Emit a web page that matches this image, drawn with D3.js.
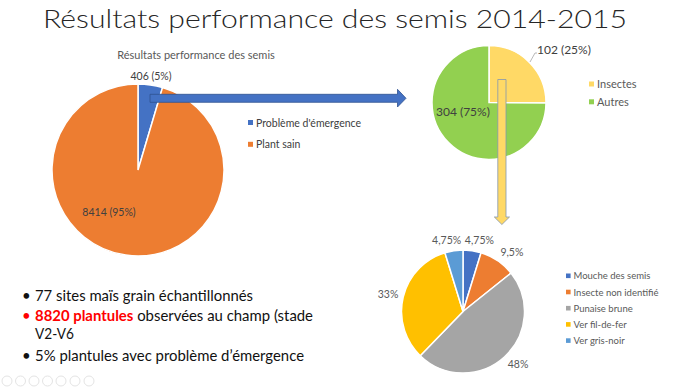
<!DOCTYPE html>
<html>
<head>
<meta charset="utf-8">
<script src="https://cdn.jsdelivr.net/npm/d3@7/dist/d3.min.js"></script>
<style>
  body { margin: 0; background: #fff; }
  svg text { font-family: Lato, "Open Sans", "DejaVu Sans", sans-serif; }
</style>
</head>
<body>
<svg id="slide" width="687" height="388"></svg>
<script>
// data
var mainTitle = "Résultats performance des semis 2014-2015";
var pie1Title = "Résultats performance des semis";
var pie1Cats = ["Problème d'émergence", "Plant sain"];
var pie1Vals = [406, 8414];
var pie1Cols = ["#4472C4", "#ED7D31"];

var pie2Cats = ["Insectes", "Autres"];
var pie2Vals = [102, 304];
var pie2Cols = ["#FFD966", "#92D050"];

var pie3Cats = ["Mouche des semis", "Insecte non identifié", "Punaise brune", "Ver fil-de-fer", "Ver gris-noir"];
var pie3Vals = [4.75, 9.5, 48, 33, 4.75];
var pie3Cols = ["#4472C4", "#ED7D31", "#A5A5A5", "#FFC000", "#5B9BD5"];

// each bullet: array of lines, each line array of segments
var bullets = [
  [[{t: "77 sites maïs grain échantillonnés"}]],
  [[{t: "8820 plantules", red: true}, {t: " observées au champ (stade"}], [{t: "V2-V6"}]],
  [[{t: "5% plantules avec problème d\u2019émergence"}]]
];
var bulletRed = [false, true, false];

var svg = d3.select("#slide");
var frFmt = d3.formatLocale({decimal: ",", thousands: " ", grouping: [3], currency: ["", "€"]});

// main title
svg.append("text")
   .attr("x", 43).attr("y", 28)
   .attr("textLength", 584).attr("lengthAdjust", "spacingAndGlyphs")
   .style("font-size", "25px").style("font-weight", 300)
   .style("fill", "#262626")
   .text(mainTitle);

function pctOf(vals){
  var tot = d3.sum(vals);
  return function(v){ return Math.round(v / tot * 100) + "%"; };
}

// ---- pie 1
var c1 = {x: 138, y: 170, r: 86};
var pie = d3.pie().sort(null).value(function(d){ return d; });
var arcs1 = pie(pie1Vals);
var g1 = svg.append("g").attr("transform", "translate(" + c1.x + "," + c1.y + ")");
g1.selectAll("path").data(arcs1).enter().append("path")
  .attr("d", d3.arc().innerRadius(0).outerRadius(c1.r))
  .attr("fill", function(d, i){ return pie1Cols[i]; })
  .attr("stroke", "#fff").attr("stroke-width", 1.5);

svg.append("text").attr("x", 196).attr("y", 59).attr("text-anchor", "middle")
   .style("font-size", "11px").style("fill", "#595959").text(pie1Title);

var p1 = pctOf(pie1Vals);
svg.append("text").attr("x", 151).attr("y", 80).attr("text-anchor", "middle")
   .style("font-size", "10.5px").style("fill", "#404040")
   .text(pie1Vals[0] + " (" + p1(pie1Vals[0]) + ")");
svg.append("text").attr("x", 109).attr("y", 216).attr("text-anchor", "middle")
   .style("font-size", "10.5px").style("fill", "#404040")
   .text(pie1Vals[1] + " (" + p1(pie1Vals[1]) + ")");

var leg1 = svg.selectAll(".leg1").data(pie1Cats).enter().append("g")
  .attr("class", "leg1")
  .attr("transform", function(d, i){ return "translate(248," + (122.5 + i * 21.8) + ")"; });
leg1.append("rect").attr("x", 0).attr("y", -2.5).attr("width", 5).attr("height", 5)
  .attr("fill", function(d, i){ return pie1Cols[i]; });
leg1.append("text").attr("x", 8).attr("y", 4).style("font-size", "10.5px").style("fill", "#404040")
  .text(function(d){ return d; });

// ---- pie 2
var c2 = {x: 489, y: 102.5, r: 57};
var arcs2 = pie(pie2Vals);
var g2 = svg.append("g").attr("transform", "translate(" + c2.x + "," + c2.y + ")");
g2.selectAll("path").data(arcs2).enter().append("path")
  .attr("d", d3.arc().innerRadius(0).outerRadius(c2.r))
  .attr("fill", function(d, i){ return pie2Cols[i]; })
  .attr("stroke", "#fff").attr("stroke-width", 1.5);

var p2 = pctOf(pie2Vals);
// leader line for the small slice
svg.append("path").attr("d", "M530,62 L535,53 L537,53")
   .attr("fill", "none").attr("stroke", "#a6a6a6").attr("stroke-width", 0.8);
svg.append("text").attr("x", 537).attr("y", 54)
   .style("font-size", "12px").style("fill", "#404040")
   .text(pie2Vals[0] + " (" + p2(pie2Vals[0]) + ")");
svg.append("text").attr("x", 436).attr("y", 116)
   .style("font-size", "12px").style("fill", "#404040")
   .text(pie2Vals[1] + " (" + p2(pie2Vals[1]) + ")");

var leg2 = svg.selectAll(".leg2").data(pie2Cats).enter().append("g")
  .attr("class", "leg2")
  .attr("transform", function(d, i){ return "translate(589," + (84 + i * 17.8) + ")"; });
leg2.append("rect").attr("x", 0).attr("y", -2.5).attr("width", 5).attr("height", 5)
  .attr("fill", function(d, i){ return pie2Cols[i]; });
leg2.append("text").attr("x", 8).attr("y", 4).style("font-size", "11px").style("fill", "#595959")
  .text(function(d){ return d; });

// ---- pie 3
var c3 = {x: 463, y: 311.5, r: 61.5};
var arcs3 = pie(pie3Vals);
var g3 = svg.append("g").attr("transform", "translate(" + c3.x + "," + c3.y + ")");
g3.selectAll("path").data(arcs3).enter().append("path")
  .attr("d", d3.arc().innerRadius(0).outerRadius(c3.r))
  .attr("fill", function(d, i){ return pie3Cols[i]; })
  .attr("stroke", "#fff").attr("stroke-width", 1.5);

var fmt3 = function(v){ return frFmt.format("~r")(v) + "%"; };
g3.selectAll(".lbl").data(arcs3).enter().append("text")
  .attr("class", "lbl")
  .style("font-size", "10.5px").style("fill", "#595959")
  .attr("text-anchor", "middle")
  .text(function(d){ return fmt3(d.value); })
  .each(function(d){
    var a = (d.startAngle + d.endAngle) / 2,
        s = Math.sin(a), c = Math.cos(a),
        rr = c3.r + 5,
        w = this.getComputedTextLength(), h = 10;
    var px = rr * s + Math.sign(s) * Math.min(1, Math.abs(s) * 3) * w / 2,
        py = -rr * c - c * h / 2;
    d3.select(this).attr("x", px).attr("y", py + 3.5);
  });

var leg3 = svg.selectAll(".leg3").data(pie3Cats).enter().append("g")
  .attr("class", "leg3")
  .attr("transform", function(d, i){ return "translate(566," + (275.8 + i * 16.2) + ")"; });
leg3.append("rect").attr("x", 0).attr("y", -2.3).attr("width", 4.6).attr("height", 4.6)
  .attr("fill", function(d, i){ return pie3Cols[i]; });
leg3.append("text").attr("x", 7.5).attr("y", 3.5).style("font-size", "9.5px").style("fill", "#595959")
  .text(function(d){ return d; });

// ---- arrows
svg.append("path")
   .attr("d", "M150,94.3 L397.5,94.3 L397.5,89.3 L406,98.3 L397.5,107 L397.5,102.3 L150,102.3 Z")
   .attr("fill", "#4472C4").attr("stroke", "#2F528F").attr("stroke-width", 0.8);
svg.append("path")
   .attr("d", "M497.8,79.5 L506,79.5 L506,217 L509.5,217 L501.9,224.5 L494.3,217 L497.8,217 Z")
   .attr("fill", "#FFD966").attr("stroke", "#8497B0").attr("stroke-width", 0.8);

// ---- bullet text
var by = [300.5, 321, 361];
var lineW = [[218], [278, 39], [269]];
bullets.forEach(function(lines, i){
  svg.append("text").attr("x", 22).attr("y", by[i])
     .style("font-size", "15px").style("fill", bulletRed[i] ? "#FF0000" : "#111")
     .text("\u2022");
  lines.forEach(function(line, j){
    var t = svg.append("text").attr("x", 35).attr("y", by[i] + j * 17.5)
      .style("font-size", j === 0 ? "15px" : "14.5px")
      .attr("textLength", lineW[i][j]).attr("lengthAdjust", "spacingAndGlyphs");
    line.forEach(function(seg){
      t.append("tspan").text(seg.t)
        .style("fill", seg.red ? "#FF0000" : "#111")
        .style("font-weight", seg.red ? 700 : 400);
    });
  });
});

// slideshow control icons
var icons = [7, 20.5, 34, 47.5, 61, 75, 89];
svg.selectAll(".ico").data(icons).enter().append("circle")
   .attr("class", "ico").attr("cx", function(d){ return d; }).attr("cy", 381)
   .attr("r", 5).attr("fill", "none").attr("stroke", "#e4e4e4").attr("stroke-width", 1);
</script>
</body>
</html>
